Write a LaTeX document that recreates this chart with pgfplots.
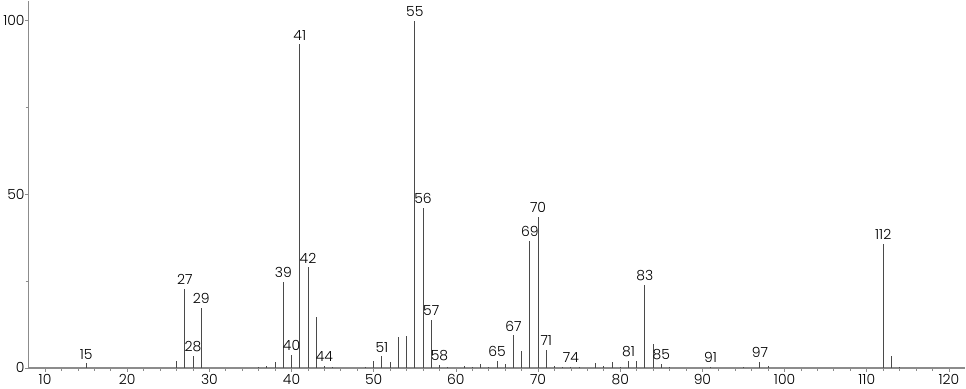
\documentclass[border=0pt]{standalone}
\usepackage{pgfplots}
\pgfplotsset{compat=1.18}
\usepackage{fontspec}
\setmainfont{Poppins}[UprightFont=* Light]
\definecolor{axgray}{HTML}{8C8C8C}
\definecolor{bargray}{HTML}{4A4A4A}
\begin{document}
\begin{tikzpicture}
\begin{axis}[
  scale only axis, width=936bp, height=367bp,
  xmin=8, xmax=122, ymin=0, ymax=105.8,
  axis x line=bottom, axis y line=left,
  axis line style={-, axgray, line width=1.3bp},
  tick align=outside,
  major tick length=4bp, minor tick length=3bp,
  tick style={axgray, line width=0.8bp},
  xtick={10,20,...,120}, minor x tick num=4,
  ytick={0,50,100}, minor ytick={25,75},
  /pgf/number format/assume math mode=true,
  ticklabel style={font=\fontsize{14}{14}\selectfont, text=black},
  xticklabel style={yshift=1bp},
  yticklabel style={xshift=3.5bp},
  clip=false,
]
\addplot[ycomb, bargray, line width=0.9bp, mark=none] table {
x y
15 1.3
26 1.9
27 22.8
28 3.5
29 17.4
36 0.3
37 0.5
38 1.8
39 24.8
40 3.8
41 93.2
42 29.0
43 14.8
44 0.5
45 0.3
49 0.3
50 1.9
51 3.3
52 1.7
53 8.8
54 9.3
55 100
56 46.1
57 13.8
58 0.9
59 0.3
61 0.5
62 0.3
63 1.0
64 0.4
65 2.1
66 1.0
67 9.4
68 5.0
69 36.7
70 43.6
71 5.2
72 0.5
73 0.3
74 0.3
75 0.3
77 1.3
78 0.5
79 1.8
80 0.3
81 2.1
82 2.1
83 23.9
84 6.9
85 1.2
86 0.4
91 0.3
95 0.3
97 1.7
98 0.5
112 35.7
113 3.3
114 0.4
};
\addplot[draw=none, mark=none, nodes near coords, point meta=explicit symbolic,
  nodes near coords style={font=\fontsize{14}{14}\selectfont, anchor=south, inner sep=1bp, yshift=3bp, text=black}]
  table[meta=label] {
x y label
15 1.3 15
27 22.8 27
28 3.5 28
29 17.4 29
39 24.8 39
40 3.8 40
41 93.2 41
42 29.0 42
44 0.5 44
51 3.3 51
55 100 55
56 46.1 56
57 13.8 57
58 0.9 58
65 2.1 65
67 9.4 67
69 36.7 69
70 43.6 70
71 5.2 71
74 0.3 74
81 2.1 81
83 23.9 83
85 1.2 85
91 0.3 91
97 1.7 97
112 35.7 112
};
\end{axis}
\end{tikzpicture}
\end{document}
